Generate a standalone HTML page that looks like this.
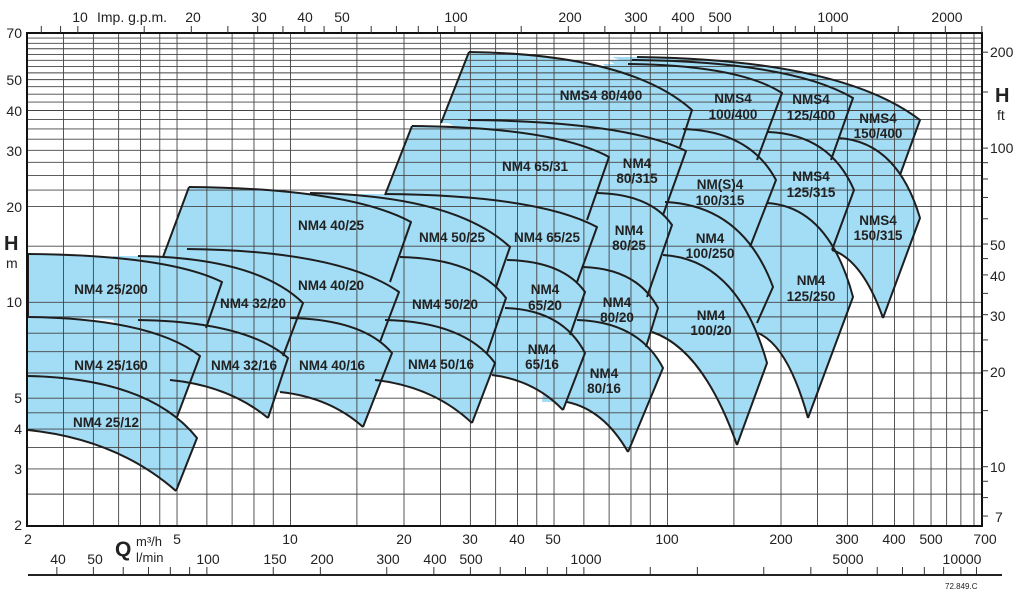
<!DOCTYPE html>
<html><head><meta charset="utf-8"><style>
html,body{margin:0;padding:0;background:#fff}
svg{display:block}
text{font-family:"Liberation Sans",Arial,sans-serif;fill:#222}
.ax{font-size:14px}
.lb{font-size:13.5px;font-weight:bold;text-anchor:middle}
</style></head><body>
<svg id="s" width="1024" height="593" viewBox="0 0 1024 593" xmlns="http://www.w3.org/2000/svg">
<g id="fills"></g>
<g id="grid"></g>
<g id="strokes" fill="none" stroke="#1e1e1e" stroke-width="2" stroke-linejoin="round"></g>
<rect x="27" y="33" width="955" height="493" fill="none" stroke="#111" stroke-width="2"/>
<g id="ticks" stroke="#333" stroke-width="1"></g>
<line x1="28" y1="575" x2="1002" y2="575" stroke="#222" stroke-width="2"/>
<g class="ax" text-anchor="end">
<text x="22" y="38">70</text><text x="22" y="85">50</text><text x="22" y="116">40</text>
<text x="22" y="156">30</text><text x="22" y="212">20</text><text x="22" y="307">10</text>
<text x="22" y="403">5</text><text x="22" y="434">4</text><text x="22" y="474">3</text><text x="22" y="530">2</text>
</g>
<text x="4" y="250" style="font-size:20px;font-weight:bold">H</text>
<text x="6" y="268" class="ax">m</text>
<g class="ax">
<text x="990" y="57">200</text><text x="990" y="153">100</text><text x="990" y="250">50</text>
<text x="990" y="281">40</text><text x="990" y="321">30</text><text x="990" y="377">20</text>
<text x="990" y="472">10</text><text x="995" y="522">7</text>
</g>
<text x="995" y="102" style="font-size:20px;font-weight:bold">H</text>
<text x="997" y="120" class="ax">ft</text>
<g class="ax" text-anchor="middle">
<text x="80" y="22">10</text><text x="193" y="22">20</text><text x="259" y="22">30</text>
<text x="305" y="22">40</text><text x="342" y="22">50</text><text x="456" y="22">100</text>
<text x="570" y="22">200</text><text x="636" y="22">300</text><text x="683" y="22">400</text>
<text x="720" y="22">500</text><text x="833" y="22">1000</text><text x="947" y="22">2000</text>
</g>
<text x="97" y="22" class="ax">Imp. g.p.m.</text>
<g class="ax" text-anchor="middle">
<text x="28" y="544">2</text><text x="177" y="544">5</text><text x="290" y="544">10</text>
<text x="404" y="544">20</text><text x="470" y="544">30</text><text x="517" y="544">40</text>
<text x="553" y="544">50</text><text x="667" y="544">100</text><text x="781" y="544">200</text>
<text x="847" y="544">300</text><text x="894" y="544">400</text><text x="931" y="544">500</text>
<text x="985" y="544">700</text>
</g>
<text x="115" y="556" style="font-size:21px;font-weight:bold">Q</text>
<text x="136" y="546" style="font-size:13px">m³/h</text>
<text x="136" y="562" style="font-size:13px">l/min</text>
<g class="ax" text-anchor="middle">
<text x="58" y="564">40</text><text x="95" y="564">50</text><text x="208" y="564">100</text>
<text x="275" y="564">150</text><text x="322" y="564">200</text><text x="388" y="564">300</text>
<text x="435" y="564">400</text><text x="471" y="564">500</text><text x="586" y="564">1000</text>
<text x="848" y="564">5000</text><text x="962" y="564">10000</text>
</g>
<text x="945" y="589" style="font-size:8px">72.849.C</text>
<g class="lb">
<text x="601" y="100">NMS4 80/400</text>
<text x="535" y="171">NM4 65/31</text>
<text x="637" y="168">NM4</text><text x="637" y="183">80/315</text>
<text x="733" y="103">NMS4</text><text x="733" y="119">100/400</text>
<text x="811" y="104">NMS4</text><text x="811" y="120">125/400</text>
<text x="878" y="123">NMS4</text><text x="878" y="138">150/400</text>
<text x="720" y="189">NM(S)4</text><text x="720" y="205">100/315</text>
<text x="811" y="181">NMS4</text><text x="811" y="197">125/315</text>
<text x="878" y="225">NMS4</text><text x="878" y="240">150/315</text>
<text x="710" y="243">NM4</text><text x="710" y="258">100/250</text>
<text x="811" y="285">NM4</text><text x="811" y="301">125/250</text>
<text x="711" y="320">NM4</text><text x="711" y="335">100/20</text>
<text x="547" y="242">NM4 65/25</text>
<text x="629" y="235">NM4</text><text x="629" y="250">80/25</text>
<text x="452" y="242">NM4 50/25</text>
<text x="445" y="309">NM4 50/20</text>
<text x="545" y="294">NM4</text><text x="545" y="310">65/20</text>
<text x="617" y="307">NM4</text><text x="617" y="322">80/20</text>
<text x="441" y="369">NM4 50/16</text>
<text x="542" y="354">NM4</text><text x="542" y="369">65/16</text>
<text x="604" y="378">NM4</text><text x="604" y="393">80/16</text>
<text x="331" y="230">NM4 40/25</text>
<text x="331" y="290">NM4 40/20</text>
<text x="332" y="370">NM4 40/16</text>
<text x="111" y="294">NM4 25/200</text>
<text x="253" y="308">NM4 32/20</text>
<text x="111" y="370">NM4 25/160</text>
<text x="244" y="370">NM4 32/16</text>
<text x="106" y="427">NM4 25/12</text>
</g>
</svg>
<script>
(function(){
var NS="http://www.w3.org/2000/svg";
function X(q){return 27+377*Math.log10(q/2);}
function Y(h){return 525-318.6*Math.log10(h/2);}
function el(p,t,a){var e=document.createElementNS(NS,t);for(var k in a)e.setAttribute(k,a[k]);p.appendChild(e);return e;}
var g=document.getElementById('grid');
var qs=[2.5,3,3.5,4,4.5,5,6,7,8,9,10,15,20,25,30,35,40,45,50,60,70,80,90,100,150,200,250,300,350,400,450,500,550,600,650];
qs.forEach(function(q){var x=X(q);el(g,'line',{x1:x,y1:33,x2:x,y2:526,stroke:'#444','stroke-width':0.9});});
var hs=[2.5,3,3.5,4,4.5,5,6,7,8,9,10,15];for(var h=20;h<70;h+=2.5)hs.push(h);
hs.forEach(function(h){var y=Y(h);el(g,'line',{x1:27,y1:y,x2:982,y2:y,stroke:'#444','stroke-width':0.9});});
var tk=document.getElementById('ticks');
[7,8,9,10,15,20,25,30,35,40,45,50,60,70,80,90,100,150,200].forEach(function(f){var y=Y(f*0.3048);el(tk,'line',{x1:982,y1:y,x2:988,y2:y});});
[8,9,10,15,20,25,30,35,40,45,50,60,70,80,90,100,150,200,250,300,350,400,450,500,600,700,800,900,1000,1500,2000,2500].forEach(function(v){var x=X(v*0.2728);if(x<982)el(tk,'line',{x1:x,y1:26,x2:x,y2:33});});
[40,50,60,70,80,90,100,150,200,300,400,500,600,700,800,900,1000,1500,2000,3000,4000,5000,6000,7000,8000,9000,10000,11000].forEach(function(v){var x=X(v/16.667);el(tk,'line',{x1:x,y1:567,x2:x,y2:575});});
var S=[
[[637,57],[920,120],[900,175],[838,138],0,0],
[[838,138],[920,218],[883,318],[832,250],0,1],
[[632,60],[853,98],[831,160],[768,132],0,0],
[[768,132],[854,190],[832,250],[767,203],0,0],
[[767,203],[853,297],[808,418],[758,333],0,1],
[[628,64],[782,93],[757,160],[683,129],0,0],
[[683,129],[776,180],[750,247],[665,202],0,0],
[[665,202],[773,287],[757,323],[663,255],0,0],
[[663,255],[767,363],[737,445],[652,332],0,1],
[[469,52],[692,110],[680,147],[441,123],1,0],
[[468,120],[686,151],[663,215],[597,193],0,0],
[[412,126],[609,157],[587,220],[385,195],1,0],
[[597,193],[672,225],[647,297],[583,267],0,0],
[[583,267],[658,308],[646,347],[577,320],0,0],
[[577,320],[663,368],[628,452],[567,402],0,1],
[[385,194],[597,227],[577,282],[507,260],0,0],
[[507,260],[585,292],[570,335],[505,308],0,0],
[[505,308],[585,353],[563,410],[492,375],0,1],
[[310,193],[510,247],[496,287],[400,257],0,0],
[[400,257],[506,298],[487,353],[383,322],0,0],
[[385,320],[495,363],[472,423],[375,380],0,1],
[[189,187],[411,222],[390,282],[163,257],1,0],
[[187,249],[399,292],[380,342],[290,318],0,0],
[[290,318],[392,353],[363,427],[280,392],0,1],
[[138,256],[303,303],[283,356],[138,320],0,0],
[[138,320],[288,358],[268,418],[170,380],0,1],
[[28,254],[222,282],[206,328],[28,317],1,0],
[[28,317],[200,356],[177,417],[28,376],0,0],
[[28,376],[197,438],[176,491],[28,430],0,1]
];
function topC(a,b){return 'Q'+(a[0]+0.72*(b[0]-a[0]))+','+(a[1]+0.04*(b[1]-a[1]))+' '+b[0]+','+b[1];}
function botC(a,b){return 'Q'+(a[0]+0.6*(b[0]-a[0]))+','+(a[1]+0.15*(b[1]-a[1]))+' '+b[0]+','+b[1];}
function botRev(br,bl){var cx=bl[0]+0.6*(br[0]-bl[0]),cy=bl[1]+0.15*(br[1]-bl[1]);return 'Q'+cx+','+cy+' '+bl[0]+','+bl[1];}
var F=document.getElementById('fills'),K=document.getElementById('strokes');
S.forEach(function(s){
 var TL=s[0],TR=s[1],BR=s[2],BL=s[3];
 var d='M'+TL[0]+','+TL[1]+' '+topC(TL,TR)+' L'+BR[0]+','+BR[1]+' '+botRev(BR,BL);
 if(!s[4]&&TL[0]>40){d+=' L'+(BL[0]-25)+','+BL[1]+' L'+(TL[0]-25)+','+TL[1];}
 d+=' Z';
 el(F,'path',{d:d,fill:'#a2dcf5',stroke:'none'});
});
S.forEach(function(s){
 var TL=s[0],TR=s[1],BR=s[2],BL=s[3];
 el(K,'path',{d:'M'+TL[0]+','+TL[1]+' '+topC(TL,TR)+' L'+BR[0]+','+BR[1]});
 if(s[5])el(K,'path',{d:'M'+BL[0]+','+BL[1]+' '+botC(BL,BR)});
 if(s[4])el(K,'path',{d:'M'+BL[0]+','+BL[1]+' L'+TL[0]+','+TL[1]});
});
})();
</script>
</body></html>
